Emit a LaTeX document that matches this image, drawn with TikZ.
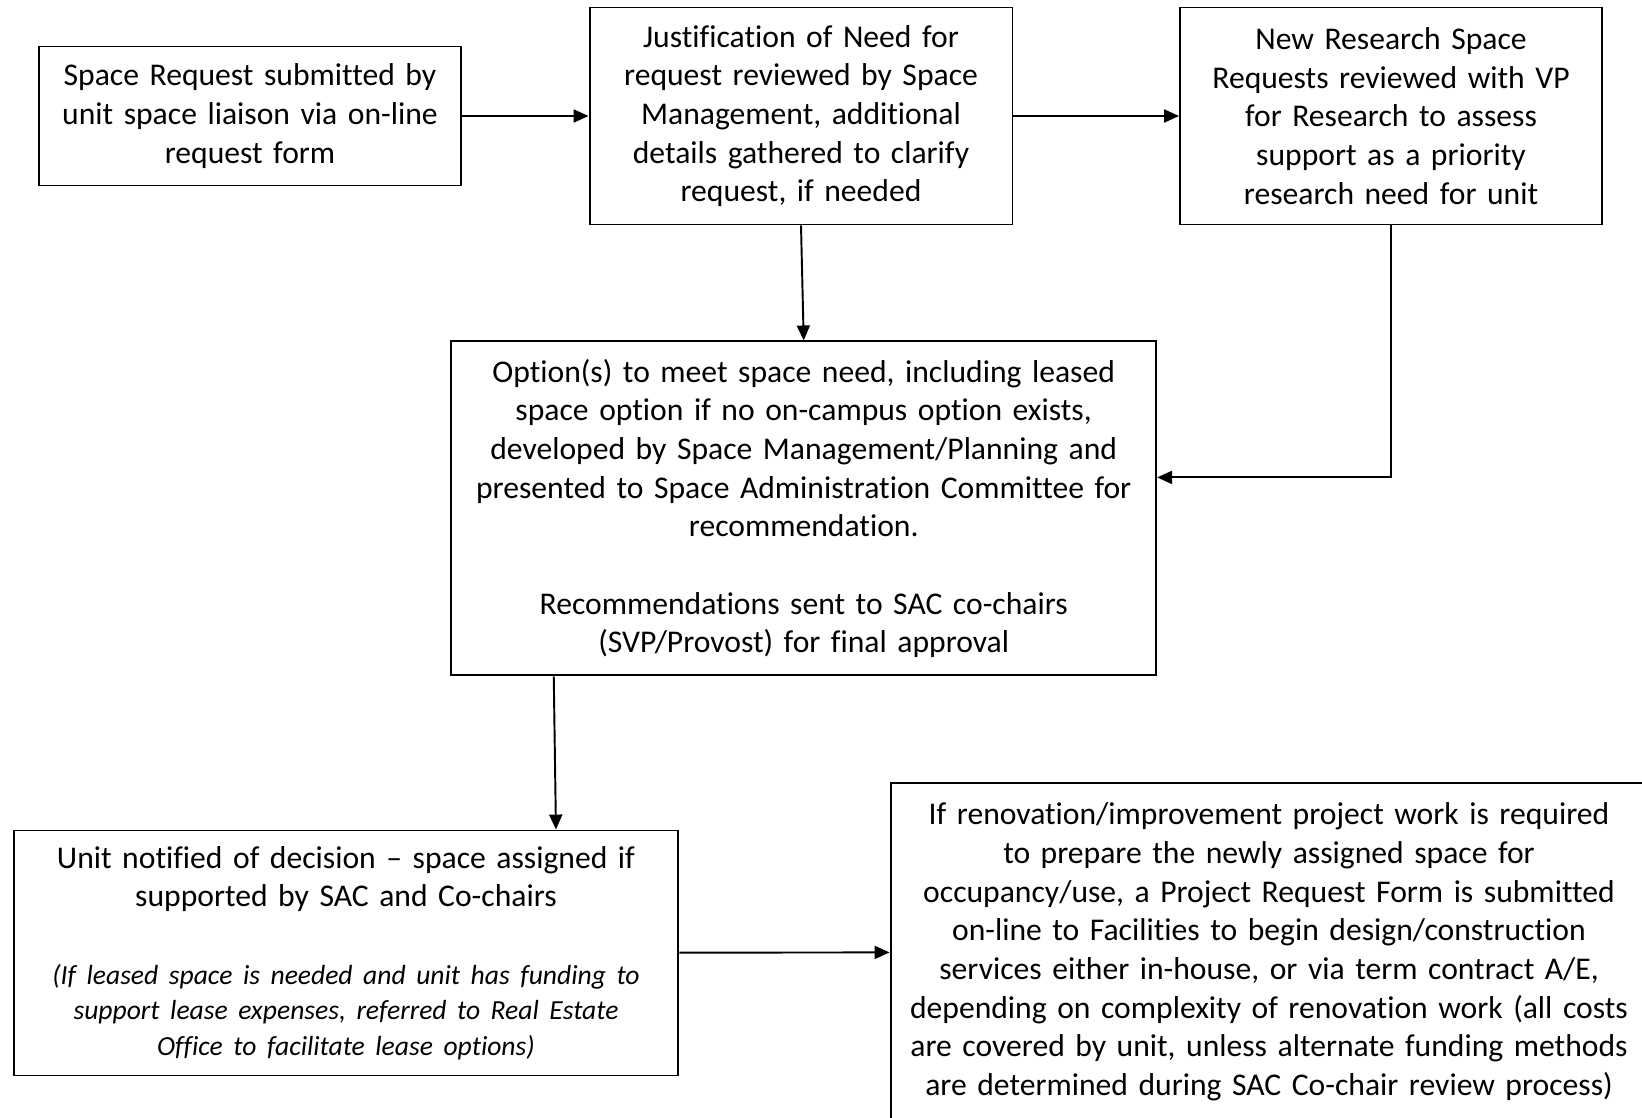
\documentclass[tikz,border=0pt]{standalone}
\usepackage{fontspec}
\setmainfont{Carlito}[Ligatures={NoCommon}]
\usetikzlibrary{arrows.meta,positioning}

\begin{document}
\begin{tikzpicture}[x=0.02cm,y=-0.02cm,
  box/.style={draw,line width=1.1pt,inner sep=0pt,align=center,
    font=\fontsize{18}{22}\selectfont},
  arr/.style={line width=1.1pt,-{Triangle[length=0.3cm,width=0.26cm]}}]
  \useasboundingbox (0,0) rectangle (1642,1118);
  % top row
  \node[box,minimum width=8.46cm,minimum height=2.78cm,text width=8.2cm] (req) at (250,116)
    {Space Request submitted by\\unit space liaison via on-line\\request form};
  \node[box,minimum width=8.46cm,minimum height=4.34cm,text width=8.2cm] (just) at (801,116)
    {Justification of Need for\\request reviewed by Space\\Management, additional\\details gathered to clarify\\request, if needed};
  \node[box,minimum width=8.44cm,minimum height=4.34cm,text width=8.2cm] (vpr) at (1391,116)
    {New Research Space\\Requests reviewed with VP\\for Research to assess\\support as a priority\\research need for unit};
  % middle
  \node[box,minimum width=14.1cm,minimum height=6.68cm,text width=13.8cm] (opt) at (803.7,508.4)
    {Option(s) to meet space need, including leased\\space option if no on-campus option exists,\\developed by Space Management/Planning and\\presented to Space Administration Committee for\\recommendation.\\[22pt]Recommendations sent to SAC co-chairs\\(SVP/Provost) for final approval};
  % bottom row
  \node[box,minimum width=13.3cm,minimum height=4.9cm,text width=13cm] (unit) at (346,953)
    {Unit notified of decision – space assigned if\\supported by SAC and Co-chairs\par\vspace{24pt}
     {\fontsize{15.7}{20.2}\selectfont\itshape (If leased space is needed and unit has funding to\\support lease expenses, referred to Real Estate\\Office to facilitate lease options)\par}};
  \node[box,minimum width=15.14cm,minimum height=6.76cm,text width=14.9cm] (reno) at (1269,952)
    {If renovation/improvement project work is required\\to prepare the newly assigned space for\\occupancy/use, a Project Request Form is submitted\\on-line to Facilities to begin design/construction\\services either in-house, or via term contract A/E,\\depending on complexity of renovation work (all costs\\are covered by unit, unless alternate funding methods\\are determined during SAC Co-chair review process)};
  % connectors
  \draw[arr] (req) -- (just);
  \draw[arr] (just) -- (vpr);
  \draw[arr] (just.south) -- (opt.north);
  \draw[arr] (vpr.south) |- ([yshift=0.62cm]opt.east);
  \draw[arr] ([xshift=-5cm]opt.south) -- ([xshift=4.2cm]unit.north);
  \draw[arr] (unit) -- (reno);
\end{tikzpicture}
\end{document}
